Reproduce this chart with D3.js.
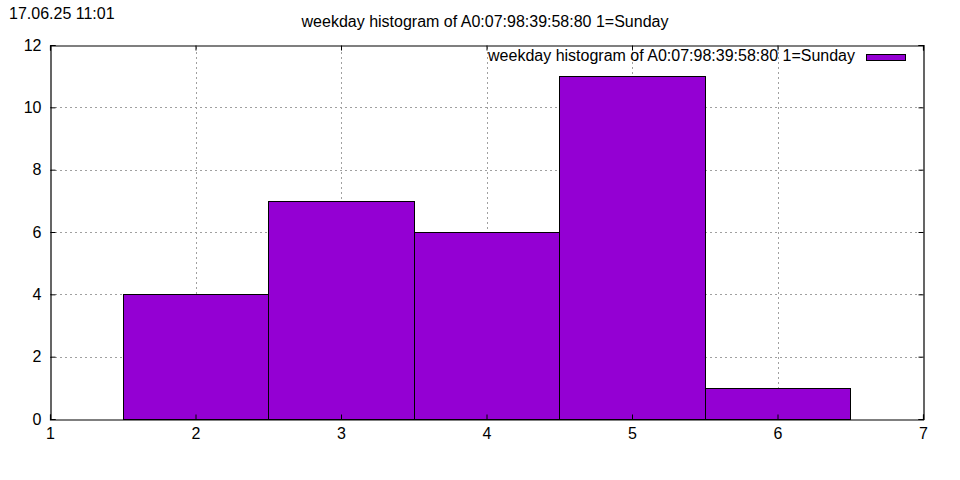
<!DOCTYPE html>
<html><head><meta charset="utf-8">
<script src="https://cdn.jsdelivr.net/npm/d3@7"></script>
<style>body{margin:0;background:#fff}svg{display:block}text{font-family:"Liberation Sans",Arial,sans-serif;font-size:16px;fill:#000}</style>
</head><body>
<script>
const weekdays = [2, 3, 4, 5, 6];
const counts = [4, 7, 6, 11, 1];
const xTicks = [1, 2, 3, 4, 5, 6, 7];
const yTicks = [0, 2, 4, 6, 8, 10, 12];
const titleText = "weekday histogram of A0:07:98:39:58:80 1=Sunday";
const stamp = "17.06.25 11:01";
const barColor = "#9400d3";

(function () {
const W = 960, H = 480;
const m = {left: 50, right: 37, top: 45, bottom: 61};
const svg = d3.select("body").append("svg").attr("width", W).attr("height", H);
const x = d3.scaleLinear().domain([1, 7]).range([m.left, W - m.right]);
const y = d3.scaleLinear().domain([0, 12]).range([H - m.bottom, m.top]);

const g = svg.append("g");
g.selectAll(".gx").data(xTicks.slice(1, -1)).join("line")
  .attr("x1", d => Math.round(x(d)) + 0.5).attr("x2", d => Math.round(x(d)) + 0.5)
  .attr("y1", y(0)).attr("y2", y(12))
  .attr("stroke", "#a0a0a0").attr("stroke-dasharray", "2,3");
g.selectAll(".gy").data(yTicks.slice(1, -1)).join("line")
  .attr("y1", d => Math.round(y(d)) + 0.5).attr("y2", d => Math.round(y(d)) + 0.5)
  .attr("x1", x(1)).attr("x2", x(7))
  .attr("stroke", "#a0a0a0").attr("stroke-dasharray", "2,3");

svg.selectAll(".bar").data(weekdays).join("rect")
  .attr("x", d => Math.round(x(d - 0.5)) + 0.5)
  .attr("y", (d, i) => Math.round(y(counts[i])) + 0.5)
  .attr("width", d => Math.round(x(d + 0.5)) - Math.round(x(d - 0.5)))
  .attr("height", (d, i) => Math.round(y(0)) - Math.round(y(counts[i])))
  .attr("fill", barColor).attr("stroke", "#000").attr("stroke-width", 1);

const axB = svg.append("g").attr("transform", `translate(0,${Math.round(y(0)) + 0.5})`)
  .call(d3.axisBottom(x).tickValues(xTicks).tickSize(-5).tickPadding(8).tickFormat(d3.format("d")));
const axL = svg.append("g").attr("transform", `translate(${Math.round(x(1)) + 0.5},0)`)
  .call(d3.axisLeft(y).tickValues(yTicks).tickSize(-5).tickPadding(9).tickFormat(d3.format("d")));
const axT = svg.append("g").attr("transform", `translate(0,${Math.round(y(12)) + 0.5})`)
  .call(d3.axisTop(x).tickValues(xTicks).tickSize(-5).tickFormat(""));
const axR = svg.append("g").attr("transform", `translate(${Math.round(x(7)) + 0.5},0)`)
  .call(d3.axisRight(y).tickValues(yTicks).tickSize(-5).tickFormat(""));
[axB, axL, axT, axR].forEach(a => {
  a.select(".domain").attr("stroke", "#000").attr("stroke-width", 1.2);
  a.selectAll(".tick line").attr("stroke", "#000");
  a.selectAll("text").style("font-family", '"Liberation Sans",Arial,sans-serif').style("font-size", "16px").attr("fill", "#000");
});
axB.selectAll(".tick text").attr("dy", "0.71em");
axL.selectAll(".tick text").attr("dx", "0");

svg.append("text").attr("x", 9).attr("y", 19).text(stamp);
svg.append("text").attr("x", 485).attr("y", 27).attr("text-anchor", "middle").text(titleText);
svg.append("text").attr("x", 855).attr("y", 61).attr("text-anchor", "end").text(titleText);
svg.append("rect").attr("x", 866.5).attr("y", 54.5).attr("width", 39).attr("height", 6)
  .attr("fill", barColor).attr("stroke", "#000");
})();
</script>
</body></html>
